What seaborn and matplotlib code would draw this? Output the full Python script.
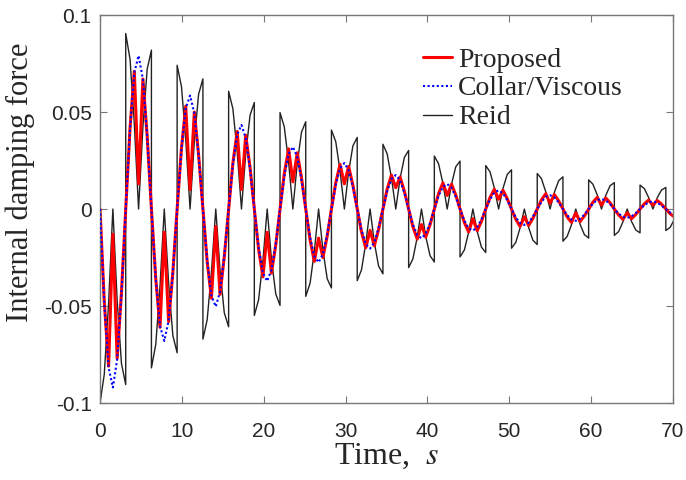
import numpy as np
import pandas as pd
import seaborn as sns
import matplotlib.pyplot as plt

# sample times (s), one point every pi/6 s
time = [0.00, 0.52, 1.05, 1.57, 2.09, 2.62, 3.14, 3.67, 4.19, 4.71, 5.24, 5.76,
        6.28, 6.81, 7.33, 7.85, 8.38, 8.90, 9.42, 9.95, 10.47, 11.00, 11.52, 12.04,
        12.57, 13.09, 13.61, 14.14, 14.66, 15.18, 15.71, 16.23, 16.76, 17.28, 17.80, 18.33,
        18.85, 19.37, 19.90, 20.42, 20.94, 21.47, 21.99, 22.51, 23.04, 23.56, 24.09, 24.61,
        25.13, 25.66, 26.18, 26.70, 27.23, 27.75, 28.27, 28.80, 29.32, 29.85, 30.37, 30.89,
        31.42, 31.94, 32.46, 32.99, 33.51, 34.03, 34.56, 35.08, 35.60, 36.13, 36.65, 37.18,
        37.70, 38.22, 38.75, 39.27, 39.79, 40.32, 40.84, 41.36, 41.89, 42.41, 42.94, 43.46,
        43.98, 44.51, 45.03, 45.55, 46.08, 46.60, 47.12, 47.65, 48.17, 48.69, 49.22, 49.74,
        50.27, 50.79, 51.31, 51.84, 52.36, 52.88, 53.41, 53.93, 54.45, 54.98, 55.50, 56.03,
        56.55, 57.07, 57.60, 58.12, 58.64, 59.17, 59.69, 60.21, 60.74, 61.26, 61.78, 62.31,
        62.83, 63.36, 63.88, 64.40, 64.93, 65.45, 65.97, 66.50, 67.02, 67.54, 68.07, 68.59,
        69.12, 69.64, 70.16]

proposed = [0, -0.0478, -0.0810, -0.0130, -0.0770, -0.0431,
            0, 0.0419, 0.0710, 0.0130, 0.0670, 0.0375,
            0, -0.0360, -0.0610, -0.0120, -0.0580, -0.0325,
            0, 0.0313, 0.0530, 0.0100, 0.0500, 0.0280,
            0, -0.0271, -0.0460, -0.0090, -0.0440, -0.0246,
            0, 0.0236, 0.0400, 0.0100, 0.0380, 0.0213,
            0, -0.0207, -0.0350, -0.0120, -0.0330, -0.0185,
            0, 0.0183, 0.0310, 0.0140, 0.0290, 0.0162,
            0, -0.0159, -0.0270, -0.0150, -0.0250, -0.0140,
            0, 0.0136, 0.0230, 0.0130, 0.0220, 0.0123,
            0, -0.0118, -0.0200, -0.0110, -0.0190, -0.0106,
            0, 0.0103, 0.0175, 0.0110, 0.0165, 0.0092,
            0, -0.0091, -0.0155, -0.0080, -0.0145, -0.0081,
            0, 0.0080, 0.0135, 0.0070, 0.0128, 0.0072,
            0, -0.0070, -0.0118, -0.0050, -0.0112, -0.0063,
            0, 0.0060, 0.0102, 0.0050, 0.0097, 0.0054,
            0, -0.0053, -0.0090, -0.0040, -0.0085, -0.0048,
            0, 0.0047, 0.0079, 0.0030, 0.0075, 0.0042,
            0, -0.0041, -0.0069, -0.0020, -0.0065, -0.0036,
            0, 0.0035, 0.0060, 0.0020, 0.0057, 0.0032,
            0, -0.0031, -0.0053, -0.0020, -0.0050, -0.0028,
            0, 0.0027, 0.0046, 0.0020, 0.0044, 0.0025,
            0, -0.0024, -0.0041]

viscous = [0, -0.0484, -0.0817, -0.0920, -0.0777, -0.0437,
           0, 0.0416, 0.0703, 0.0791, 0.0668, 0.0376,
           0, -0.0358, -0.0604, -0.0680, -0.0575, -0.0324,
           0, 0.0308, 0.0520, 0.0585, 0.0494, 0.0278,
           0, -0.0265, -0.0447, -0.0503, -0.0425, -0.0239,
           0, 0.0228, 0.0384, 0.0433, 0.0365, 0.0206,
           0, -0.0196, -0.0330, -0.0372, -0.0314, -0.0177,
           0, 0.0168, 0.0284, 0.0320, 0.0270, 0.0152,
           0, -0.0145, -0.0244, -0.0275, -0.0232, -0.0131,
           0, 0.0124, 0.0210, 0.0237, 0.0200, 0.0113,
           0, -0.0107, -0.0181, -0.0204, -0.0172, -0.0097,
           0, 0.0092, 0.0155, 0.0175, 0.0148, 0.0083,
           0, -0.0079, -0.0134, -0.0151, -0.0127, -0.0072,
           0, 0.0068, 0.0115, 0.0129, 0.0109, 0.0062,
           0, -0.0059, -0.0099, -0.0111, -0.0094, -0.0053,
           0, 0.0050, 0.0085, 0.0096, 0.0081, 0.0046,
           0, -0.0043, -0.0073, -0.0082, -0.0070, -0.0039,
           0, 0.0037, 0.0063, 0.0071, 0.0060, 0.0034,
           0, -0.0032, -0.0054, -0.0061, -0.0051, -0.0029,
           0, 0.0028, 0.0047, 0.0052, 0.0044, 0.0025,
           0, -0.0024, -0.0040, -0.0045, -0.0038, -0.0021,
           0, 0.0020, 0.0034, 0.0039, 0.0033, 0.0018,
           0, -0.0018, -0.0030]

# Reid: one row per half cycle, jumps at the row boundaries
reid = [-0.1000, -0.0852, -0.0484, 0, -0.0468, -0.0797, -0.0905,
        0.0905, 0.0771, 0.0438, 0, 0.0423, 0.0721, 0.0819,
        -0.0819, -0.0698, -0.0396, 0, -0.0383, -0.0653, -0.0741,
        0.0741, 0.0631, 0.0359, 0, 0.0347, 0.0591, 0.0671,
        -0.0671, -0.0571, -0.0325, 0, -0.0314, -0.0535, -0.0607,
        0.0607, 0.0517, 0.0294, 0, 0.0284, 0.0484, 0.0549,
        -0.0549, -0.0468, -0.0266, 0, -0.0257, -0.0438, -0.0497,
        0.0497, 0.0423, 0.0240, 0, 0.0233, 0.0396, 0.0450,
        -0.0450, -0.0383, -0.0218, 0, -0.0211, -0.0359, -0.0407,
        0.0407, 0.0347, 0.0197, 0, 0.0191, 0.0325, 0.0369,
        -0.0369, -0.0314, -0.0178, 0, -0.0172, -0.0294, -0.0334,
        0.0334, 0.0284, 0.0161, 0, 0.0156, 0.0266, 0.0302,
        -0.0302, -0.0257, -0.0146, 0, -0.0141, -0.0241, -0.0273,
        0.0273, 0.0233, 0.0132, 0, 0.0128, 0.0218, 0.0247,
        -0.0247, -0.0211, -0.0120, 0, -0.0116, -0.0197, -0.0224,
        0.0224, 0.0191, 0.0108, 0, 0.0105, 0.0178, 0.0202,
        -0.0202, -0.0172, -0.0098, 0, -0.0095, -0.0161, -0.0183,
        0.0183, 0.0156, 0.0089, 0, 0.0086, 0.0146, 0.0166,
        -0.0166, -0.0141, -0.0080, 0, -0.0078, -0.0132, -0.0150,
        0.0150, 0.0128, 0.0073, 0, 0.0070, 0.0120, 0.0136,
        -0.0136, -0.0116, -0.0066, 0, -0.0064, -0.0108, -0.0123,
        0.0123, 0.0105, 0.0059, 0, 0.0058, 0.0098, 0.0111,
        -0.0111, -0.0095, -0.0054]

# each half cycle of Reid shares its end time with the next one's start
reid_time = []
for k in range(23):
    reid_time += time[6 * k:6 * k + 7]

xticks = [0, 10, 20, 30, 40, 50, 60, 70]
yticks = [-0.1, -0.05, 0, 0.05, 0.1]
ytick_labels = ["-0.1", "-0.05", "0", "0.05", "0.1"]

sns.set_style("ticks")
plt.rcParams['font.family'] = ['Liberation Sans', 'DejaVu Sans']
plt.rcParams['mathtext.fontset'] = 'stix'

fig = plt.figure(figsize=(6.86, 4.8), dpi=100)
ax = fig.add_axes([0.1458, 0.1604, 0.8353, 0.8083])

sns.lineplot(x=time, y=proposed, estimator=None, sort=False, color="#ff0000",
             lw=2.2, zorder=2, label="Proposed", ax=ax)
sns.lineplot(x=time, y=viscous, estimator=None, sort=False, color="#0000ff",
             lw=1.5, linestyle=(0, (1, 1.2)), zorder=3, label="Collar/Viscous", ax=ax)
sns.lineplot(x=reid_time, y=reid, estimator=None, sort=False, color="#222222",
             lw=1.0, zorder=1, label="Reid", ax=ax)

ax.set_xlim(0, 70)
ax.set_ylim(-0.1, 0.1)
ax.set_xticks(xticks)
ax.set_xticklabels([str(v) for v in xticks])
ax.set_yticks(yticks)
ax.set_yticklabels(ytick_labels)
ax.tick_params(axis="both", direction="in", top=True, right=True, length=5,
               width=0.8, color="#777777", labelsize=15, labelcolor="#262626")
ax.tick_params(axis="x", pad=13.5)
ax.tick_params(axis="y", pad=6)
for sp in ax.spines.values():
    sp.set_color("#777777")
    sp.set_linewidth(1.0)

ax.set_xlabel("Time,  $s$", fontsize=23, family="Liberation Serif")
ax.xaxis.set_label_coords(0.5, -0.10)
ax.set_ylabel("Internal damping force", fontsize=22, family="Liberation Serif")
ax.yaxis.set_label_coords(-0.114, 0.57)

ax.legend(loc="upper left", bbox_to_anchor=(0.564, 0.917), frameon=False,
          prop={"family": "Liberation Serif", "size": 20}, handlelength=1.05,
          handletextpad=0.2, labelspacing=0.12, borderpad=0, borderaxespad=0)

fig.savefig("out.png", dpi=100)
